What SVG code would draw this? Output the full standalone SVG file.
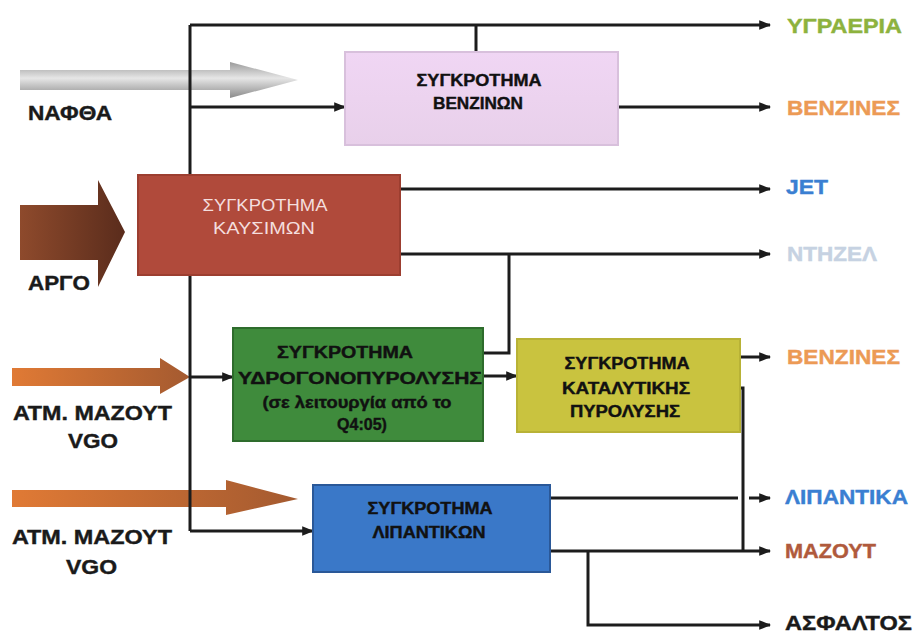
<svg xmlns="http://www.w3.org/2000/svg" width="915" height="639" viewBox="0 0 915 639">
<defs>
<style>
.ln{stroke:#1c1c1c;stroke-width:3;fill:none}
.box{stroke-width:2}
.bt{font-family:"Liberation Sans",Arial,sans-serif;font-weight:bold;font-size:16px;text-anchor:middle;fill:#111;stroke:#111;stroke-width:0.4}
.lab{font-family:"Liberation Sans",Arial,sans-serif;font-weight:bold;font-size:20px;stroke-width:0.4}
.lft{font-family:"Liberation Sans",Arial,sans-serif;font-weight:bold;font-size:20px;fill:#1a1a1a;stroke:#1a1a1a;stroke-width:0.4}
</style>
<marker id="ah" viewBox="0 0 10 10" refX="9" refY="5" markerWidth="4" markerHeight="4" orient="auto" markerUnits="strokeWidth">
<path d="M0,1 L10,5 L0,9 z" fill="#1c1c1c"/>
</marker>
<linearGradient id="gGray" x1="0" y1="0" x2="0" y2="1">
<stop offset="0" stop-color="#9a9a9a"/>
<stop offset="0.45" stop-color="#e6e6e6"/>
<stop offset="1" stop-color="#8a8a8a"/>
</linearGradient>
<linearGradient id="gBrown" x1="0" y1="0" x2="1" y2="0">
<stop offset="0" stop-color="#8e4a2c"/>
<stop offset="1" stop-color="#5a2c1c"/>
</linearGradient>
<linearGradient id="gOrange" x1="0" y1="0" x2="1" y2="0">
<stop offset="0" stop-color="#e07a35"/>
<stop offset="1" stop-color="#a45a30"/>
</linearGradient>
<linearGradient id="gPink" x1="0" y1="0" x2="0" y2="1">
<stop offset="0" stop-color="#f0d6f4"/>
<stop offset="1" stop-color="#e8d0ea"/>
</linearGradient>
</defs>

<g id="inputs">
<path d="M20,70 L230,70 L230,62 L298,80 L230,98 L230,90 L20,90 z" fill="url(#gGray)"/>
<path d="M20,205 L98,205 L98,180 L125,232 L98,287 L98,260 L20,260 z" fill="url(#gBrown)"/>
<path d="M12,368 L160,368 L160,358 L190,377 L160,394 L160,386 L12,386 z" fill="url(#gOrange)"/>
<path d="M12,490 L226,490 L226,480 L298,499 L226,515 L226,507 L12,507 z" fill="url(#gOrange)"/>
<text class="lft" x="28" y="120" textLength="84" lengthAdjust="spacingAndGlyphs">ΝΑΦΘΑ</text>
<text class="lft" x="28" y="290" textLength="62" lengthAdjust="spacingAndGlyphs">ΑΡΓΟ</text>
<text class="lft" x="13" y="420" textLength="159" lengthAdjust="spacingAndGlyphs">ΑΤΜ. ΜΑΖΟΥΤ</text>
<text class="lft" x="68" y="448" textLength="50" lengthAdjust="spacingAndGlyphs">VGO</text>
<text class="lft" x="12" y="544" textLength="160" lengthAdjust="spacingAndGlyphs">ΑΤΜ. ΜΑΖΟΥΤ</text>
<text class="lft" x="66" y="574" textLength="51" lengthAdjust="spacingAndGlyphs">VGO</text>
</g>

<g id="connectors">
<path class="ln" d="M190,25 L190,531"/>
<path class="ln" d="M190,25 L770,25" marker-end="url(#ah)"/>
<path class="ln" d="M476,25 L476,52"/>
<path class="ln" d="M190,107 L345,107" marker-end="url(#ah)"/>
<path class="ln" d="M618,107 L770,107" marker-end="url(#ah)"/>
<path class="ln" d="M400,189 L770,189" marker-end="url(#ah)"/>
<path class="ln" d="M400,254 L770,254" marker-end="url(#ah)"/>
<path class="ln" d="M509,254 L509,353 L483,353"/>
<path class="ln" d="M190,377 L233,377" marker-end="url(#ah)"/>
<path class="ln" d="M483,376 L517,376" marker-end="url(#ah)"/>
<path class="ln" d="M740,357 L770,357" marker-end="url(#ah)"/>
<path class="ln" d="M737,388 L743,388 L743,551"/>
<path class="ln" d="M190,531 L313,531" marker-end="url(#ah)"/>
<path class="ln" d="M548,498 L738,498"/>
<path class="ln" d="M749,498 L770,498" marker-end="url(#ah)"/>
<path class="ln" d="M548,551 L770,551" marker-end="url(#ah)"/>
<path class="ln" d="M588,551 L588,625 L770,625" marker-end="url(#ah)"/>
</g>

<g id="benzinon">
<rect class="box" x="345" y="52" width="273" height="93" fill="url(#gPink)" stroke="#d8c0dc"/>
<text class="bt" x="479" y="86" textLength="125" lengthAdjust="spacingAndGlyphs">ΣΥΓΚΡΟΤΗΜΑ</text>
<text class="bt" x="478" y="109" textLength="90" lengthAdjust="spacingAndGlyphs">ΒΕΝΖΙΝΩΝ</text>
</g>

<g id="kausimon">
<rect class="box" x="138" y="175" width="262" height="100" fill="#b04a3b" stroke="#9c3e30"/>
<text class="bt" x="265" y="211" textLength="125" lengthAdjust="spacingAndGlyphs" style="fill:#f4dede;stroke:none;font-weight:normal;font-size:16px">ΣΥΓΚΡΟΤΗΜΑ</text>
<text class="bt" x="264" y="234" textLength="102" lengthAdjust="spacingAndGlyphs" style="fill:#f4dede;stroke:none;font-weight:normal;font-size:16px">ΚΑΥΣΙΜΩΝ</text>
</g>

<g id="ydrogono">
<rect class="box" x="233" y="328" width="250" height="113" fill="#3f8b3c" stroke="#2e6c2c"/>
<text class="bt" x="345" y="358" textLength="136" lengthAdjust="spacingAndGlyphs">ΣΥΓΚΡΟΤΗΜΑ</text>
<text class="bt" x="360" y="384" textLength="244" lengthAdjust="spacingAndGlyphs">ΥΔΡΟΓΟΝΟΠΥΡΟΛΥΣΗΣ</text>
<text class="bt" x="357" y="408" textLength="189" lengthAdjust="spacingAndGlyphs">(σε λειτουργία από το</text>
<text class="bt" x="362" y="430">Q4:05)</text>
</g>

<g id="katalytikis">
<rect class="box" x="517" y="339" width="223" height="93" fill="#c9c33f" stroke="#b8b236"/>
<text class="bt" x="627" y="369" textLength="125" lengthAdjust="spacingAndGlyphs">ΣΥΓΚΡΟΤΗΜΑ</text>
<text class="bt" x="626" y="394" textLength="128" lengthAdjust="spacingAndGlyphs">ΚΑΤΑΛΥΤΙΚΗΣ</text>
<text class="bt" x="625" y="417" textLength="110" lengthAdjust="spacingAndGlyphs">ΠΥΡΟΛΥΣΗΣ</text>
</g>

<g id="lipantikon">
<rect class="box" x="313" y="485" width="237" height="87" fill="#3a78c8" stroke="#2a5898"/>
<text class="bt" x="430" y="514" textLength="125" lengthAdjust="spacingAndGlyphs">ΣΥΓΚΡΟΤΗΜΑ</text>
<text class="bt" x="429" y="538" textLength="113" lengthAdjust="spacingAndGlyphs">ΛΙΠΑΝΤΙΚΩΝ</text>
</g>

<g id="outputs">
<text class="lab" x="787" y="33" fill="#8db23e" stroke="#8db23e" textLength="115" lengthAdjust="spacingAndGlyphs">ΥΓΡΑΕΡΙΑ</text>
<text class="lab" x="787" y="115" fill="#ec9a55" stroke="#ec9a55" textLength="113" lengthAdjust="spacingAndGlyphs">ΒΕΝΖΙΝΕΣ</text>
<text class="lab" x="786" y="194" fill="#3a7fd2" stroke="#3a7fd2" textLength="42" lengthAdjust="spacingAndGlyphs">JET</text>
<text class="lab" x="787" y="261" fill="#c6d2e2" stroke="#c6d2e2" textLength="90" lengthAdjust="spacingAndGlyphs">ΝΤΗΖΕΛ</text>
<text class="lab" x="787" y="364" fill="#ec9a55" stroke="#ec9a55" textLength="113" lengthAdjust="spacingAndGlyphs">ΒΕΝΖΙΝΕΣ</text>
<text class="lab" x="785" y="504" fill="#3a7fd2" stroke="#3a7fd2" textLength="123" lengthAdjust="spacingAndGlyphs">ΛΙΠΑΝΤΙΚΑ</text>
<text class="lab" x="785" y="558" fill="#b05a3c" stroke="#b05a3c" textLength="91" lengthAdjust="spacingAndGlyphs">ΜΑΖΟΥΤ</text>
<text class="lab" x="785" y="630" fill="#1a1a1a" stroke="#1a1a1a" textLength="127" lengthAdjust="spacingAndGlyphs">ΑΣΦΑΛΤΟΣ</text>
</g>
</svg>
